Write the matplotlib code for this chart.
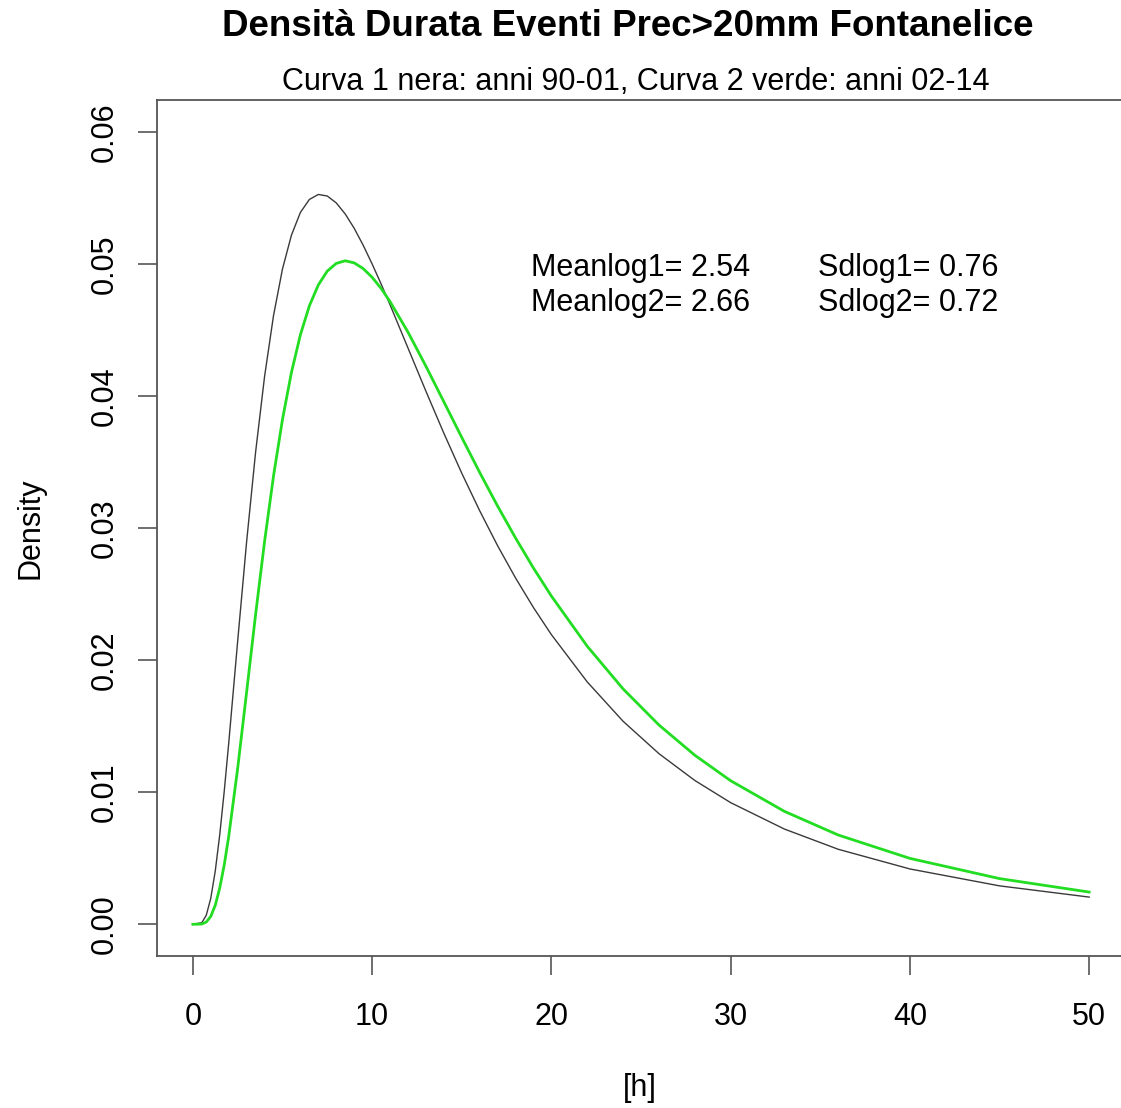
import matplotlib
matplotlib.use('Agg')
import matplotlib.pyplot as plt

plt.rcParams['font.family'] = ['Liberation Sans', 'DejaVu Sans']

# values: duration [h] and density of the two curves
hours = [0, 0.5, 0.75, 1, 1.25, 1.5, 1.75, 2, 2.5, 3, 3.5, 4, 4.5, 5, 5.5, 6, 6.5, 7,
         7.5, 8, 8.5, 9, 9.5, 10, 10.5, 11, 12, 13, 14, 15, 16, 17, 18, 19, 20, 22,
         24, 26, 28, 30, 33, 36, 40, 45, 50]
dens_black = [0.0, 0.00012, 0.00069, 0.00197, 0.00403, 0.00678, 0.01006, 0.01370,
              0.02143, 0.02897, 0.03574, 0.04146, 0.04608, 0.04961, 0.05217, 0.05389,
              0.05487, 0.05525, 0.05513, 0.05461, 0.05377, 0.05269, 0.05141, 0.04999,
              0.04848, 0.04690, 0.04363, 0.04036, 0.03718, 0.03415, 0.03131, 0.02866,
              0.02622, 0.02398, 0.02193, 0.01835, 0.01537, 0.01292, 0.01089, 0.00921,
              0.00721, 0.00568, 0.00419, 0.00291, 0.00206]
dens_green = [0.0, 0.00002, 0.00017, 0.00060, 0.00144, 0.00275, 0.00449, 0.00664,
              0.01180, 0.01759, 0.02345, 0.02897, 0.03394, 0.03822, 0.04178, 0.04463,
              0.04682, 0.04840, 0.04945, 0.05003, 0.05023, 0.05007, 0.04964, 0.04898,
              0.04814, 0.04714, 0.04483, 0.04225, 0.03956, 0.03686, 0.03421, 0.03166,
              0.02925, 0.02697, 0.02485, 0.02105, 0.01782, 0.01509, 0.01280, 0.01087,
              0.00855, 0.00676, 0.00499, 0.00346, 0.00244]
x_ticks = [0, 10, 20, 30, 40, 50]
y_ticks = [0.00, 0.01, 0.02, 0.03, 0.04, 0.05, 0.06]

W, H = 1121, 1108
fig = plt.figure(figsize=(W / 100, H / 100), dpi=100)
ax = fig.add_axes([157 / W, (H - 956) / H, (1125 - 157) / W, (956 - 100) / H])

ax.plot(hours, dens_black, color='#3a3a3a', lw=1.0)
ax.plot(hours, dens_green, color='#22dd22', lw=2.0)

ax.set_xlim(-2, 52)
ax.set_ylim(-0.0024, 0.0624)
ax.set_xticks(x_ticks)
ax.set_xticklabels([str(t) for t in x_ticks])
ax.set_yticks(y_ticks)
ax.set_yticklabels(['%.2f' % t for t in y_ticks], rotation=90, va='center')
ax.tick_params(length=14, width=1.2, color='#555555', labelsize=22)
ax.tick_params(axis='x', pad=19)
ax.tick_params(axis='y', pad=13)
for s in ax.spines.values():
    s.set_color('#555555')
    s.set_linewidth(1.3)

ax.text(18.85, 0.0497, 'Meanlog1= 2.54', fontsize=22, va='center')
ax.text(18.85, 0.0470, 'Meanlog2= 2.66', fontsize=22, va='center')
ax.text(34.9, 0.0497, 'Sdlog1= 0.76', fontsize=22, va='center')
ax.text(34.9, 0.0470, 'Sdlog2= 0.72', fontsize=22, va='center')

fig.text(628 / W, 1 - 27 / H, 'Densità Durata Eventi Prec>20mm Fontanelice',
         fontsize=26.5, fontweight='bold', ha='center', va='center')
fig.text(636 / W, 1 - 82 / H, 'Curva 1 nera: anni 90-01, Curva 2 verde: anni 02-14',
         fontsize=22, ha='center', va='center')
fig.text(640 / W, 1 - 1088 / H, '[h]', fontsize=22, ha='center', va='center')
fig.text(30 / W, 1 - 528 / H, 'Density', fontsize=22, rotation=90,
         ha='center', va='center')

fig.savefig('out.png', dpi=100)
